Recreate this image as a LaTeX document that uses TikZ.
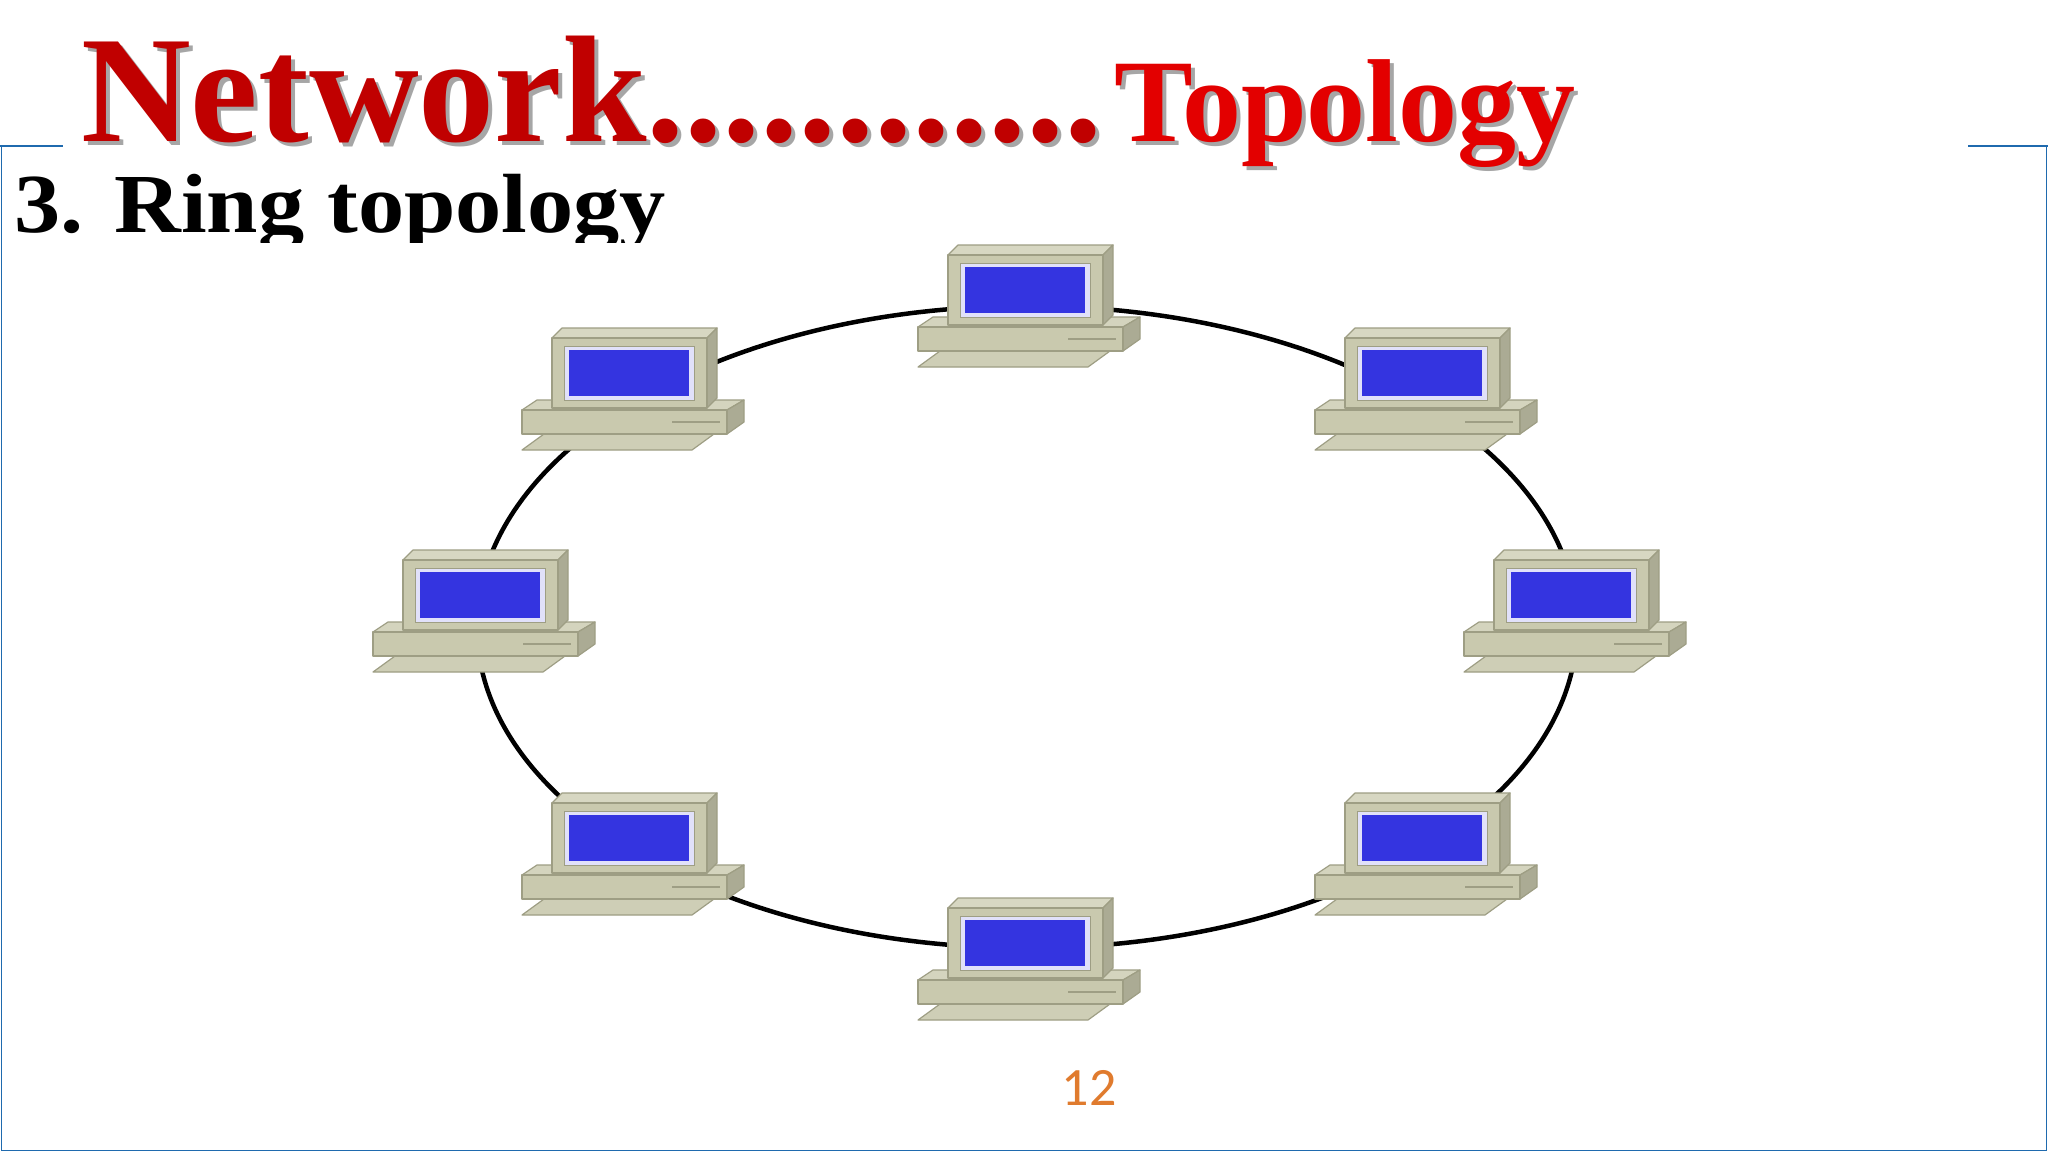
\documentclass[tikz,border=0pt]{standalone}
\usepackage{fontspec}
\setmainfont{Liberation Serif}
\newfontfamily\calib{Carlito}
\definecolor{tan}{HTML}{C9C9AE}
\definecolor{tandark}{HTML}{9E9E84}
\definecolor{scr}{HTML}{3434E0}
\definecolor{frameblue}{HTML}{1F6AAE}
\definecolor{darkred}{HTML}{C00000}
\definecolor{brightred}{HTML}{E30000}
\definecolor{numor}{HTML}{E07B2E}
\tikzset{
 edge/.style={draw=tandark,line width=1.2pt,line join=round},
 computer/.pic={
  \filldraw[edge,fill=tan!90!white] (0,122)--(170,122)--(192,106)--(22,106)--cycle;
  \filldraw[edge,fill=tan!80!white] (0,82)--(15,72)--(222,72)--(205,82)--cycle;
  \filldraw[edge,fill=tan!85!black] (205,82)--(222,72)--(222,94)--(205,106)--cycle;
  \filldraw[edge,fill=tan] (0,82) rectangle (205,106);
  \draw[tandark,line width=2pt] (150,94)--(198,94);
  \filldraw[edge,fill=tan!75!white] (30,10)--(40,0)--(195,0)--(185,10)--cycle;
  \filldraw[edge,fill=tan!85!black] (185,10)--(195,0)--(195,70)--(185,80)--cycle;
  \filldraw[edge,fill=tan] (30,10) rectangle (185,80);
  \filldraw[draw=tandark,fill=white!85!scr] (42,18) rectangle (172,72);
  \fill[scr] (47,22) rectangle (167,68);
 }
}
\begin{document}
\begin{tikzpicture}[x=1pt,y=-1pt]
\useasboundingbox (0,0) rectangle (2048,1152);
\fill[white] (0,0) rectangle (2048,1152);
\draw[frameblue,line width=1.5pt] (0,146)--(63,146);
\draw[frameblue,line width=1.5pt] (1968,146)--(2048,146);
\draw[frameblue,line width=1.5pt] (1.5,146)--(1.5,1150.5)--(2046.5,1150.5)--(2046.5,146);
\node[anchor=base west,inner sep=0,text=gray!70,font=\fontsize{152}{152}\selectfont\bfseries] at (85,145) {Network............};
\node[anchor=base west,inner sep=0,text=darkred,font=\fontsize{152}{152}\selectfont\bfseries] (t1) at (81,141) {Network............};
\node[anchor=base west,inner sep=0,text=gray!70,font=\fontsize{118}{118}\selectfont\bfseries] at (1118,145) {Topology};
\node[anchor=base west,inner sep=0,text=brightred,font=\fontsize{118}{118}\selectfont\bfseries] (t2) at (1114,141) {Topology};
\begin{scope}
\clip (0,150) rectangle (800,242);
\node[anchor=base west,inner sep=0,xscale=1.1,font=\fontsize{84}{84}\selectfont\bfseries] (sub) at (14,232) {3. Ring topology};
\end{scope}
\coordinate (c) at (1027,627);
\draw[line width=4.5pt] (c) ellipse [x radius=550,y radius=321];
\pic (top) at (918,245) {computer};
\pic (bot) at (918,898) {computer};
\pic (ul) at (522,328) {computer};
\pic (ur) at (1315,328) {computer};
\pic (l) at (373,550) {computer};
\pic (r) at (1464,550) {computer};
\pic (ll) at (522,793) {computer};
\pic (lr) at (1315,793) {computer};
\node[text=numor,font=\calib\fontsize{54}{54}\selectfont] (num) at (1089,1088) {12};
\end{tikzpicture}
\end{document}
